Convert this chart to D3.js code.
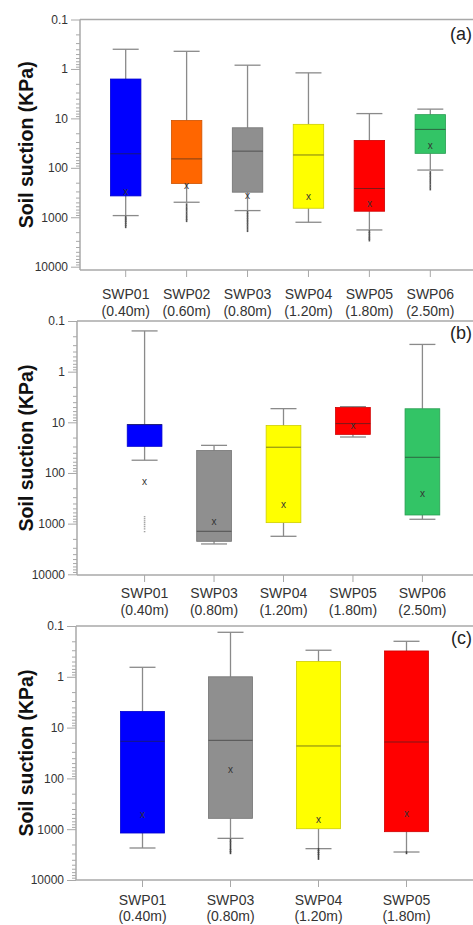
<!DOCTYPE html>
<html>
<head>
<meta charset="utf-8">
<script src="https://cdn.jsdelivr.net/npm/d3@7"></script>
<style>
  body { margin: 0; background: #fff; }
  svg { display: block; font-family: Arial, "Liberation Sans", sans-serif; }
</style>
</head>
<body>
<svg id="chart" width="473" height="925"></svg>
<script>
// Panel (a)
const catsA = ["SWP01", "SWP02", "SWP03", "SWP04", "SWP05", "SWP06"];
const depthsA = ["(0.40m)", "(0.60m)", "(0.80m)", "(1.20m)", "(1.80m)", "(2.50m)"];
const upperA = [0.40, 0.44, 0.84, 1.2, 8.0, 6.5];     // whisker end (low suction)
const q1A = [1.6, 11, 15.5, 13.2, 27.9, 8.4];
const medA = [52, 66, 46, 55, 262, 16.7];
const q3A = [370, 208, 311, 657, 755, 51];
const lowerA = [925, 497, 733, 1262, 1806, 111];     // whisker end (high suction)
const meanA = [302, 235, 364, 387, 537, 36];
const outA = [
  [1000, 1080, 1170, 1270, 1400, 1550],
  [560, 640, 720, 820, 930, 1050, 1170],
  [800, 890, 1000, 1120, 1260, 1420, 1620, 1860],
  [],
  [1950, 2150, 2400, 2650, 2880],
  [125, 140, 158, 180, 205, 235, 267]
];

// Panel (b)
const catsB = ["SWP01", "SWP03", "SWP04", "SWP05", "SWP06"];
const depthsB = ["(0.40m)", "(0.80m)", "(1.20m)", "(1.80m)", "(2.50m)"];
const upperB = [0.157, 28.5, 5.37, 4.9, 0.29];
const q1B = [11.1, 36, 11.6, 5.1, 5.4];
const medB = [11.1, 1416, 31, 10.6, 49];
const q3B = [29.8, 2233, 955, 17.3, 675];
const lowerB = [56, 2518, 1778, 19.5, 820];
const meanB = [148, 915, 422, 12, 260];
const outB = [
  [730, 800, 880, 960, 1050, 1150, 1270, 1440],
  [], [], [], []
];

// Panel (c)
const catsC = ["SWP01", "SWP03", "SWP04", "SWP05"];
const depthsC = ["(0.40m)", "(0.80m)", "(1.20m)", "(1.80m)"];
const upperC = [0.65, 0.133, 0.30, 0.20];
const q1C = [4.8, 1.0, 0.50, 0.31];
const medC = [18.6, 17.8, 23, 19.2];
const q3C = [1189, 611, 978, 1119];
const lowerC = [2344, 1514, 2416, 2812];
const meanC = [525, 68, 659, 509];
const outC = [
  [],
  [1650, 1850, 2100, 2400, 2650, 2900],
  [2500, 2750, 3000, 3300, 3750],
  [2900]
];

const yTicks = [0.1, 1, 10, 100, 1000, 10000];

const colorOf = {
  SWP01: "#0000ff",
  SWP02: "#ff6600",
  SWP03: "#8f8f8f",
  SWP04: "#ffff00",
  SWP05: "#ff0000",
  SWP06: "#33c466"
};

const svg = d3.select("#chart");
svg.append("rect").attr("width", 473).attr("height", 925).attr("fill", "#fff");

const frameColor = "#a8a8a8";
const whiskerColor = "#8a8a8a";
const capW = 26;

function drawPanel(p) {
  const g = svg.append("g");
  const y = d3.scaleLog().domain([0.1, 10000]).range([p.top, p.y10000]);
  const x = d3.scaleBand().domain(p.cats).range(p.xRange).padding(0.5);
  const xc = d => x(d) + x.bandwidth() / 2;

  // minor ticks
  const minor = [];
  for (let e = -1; e < 4; e++) {
    for (let k = 2; k < 10; k++) minor.push(k * Math.pow(10, e));
  }
  g.append("g")
    .attr("transform", `translate(${p.left},0)`)
    .call(d3.axisLeft(y).tickValues(minor).tickSize(4).tickFormat(""))
    .call(a => a.select(".domain").remove())
    .call(a => a.selectAll("line").attr("stroke", frameColor));

  // major ticks + labels
  g.append("g")
    .attr("transform", `translate(${p.left},0)`)
    .call(d3.axisLeft(y).tickValues(yTicks).tickSize(9).tickPadding(3).tickFormat(d => String(d)))
    .call(a => a.select(".domain").remove())
    .call(a => a.selectAll("line").attr("stroke", frameColor))
    .call(a => a.selectAll("text").attr("fill", "#333").attr("font-size", 12)
      .attr("font-family", "Arial, 'Liberation Sans', sans-serif"));

  // frame: left, top, bottom
  g.append("line").attr("x1", p.left).attr("x2", p.left).attr("y1", p.top).attr("y2", p.bottom)
    .attr("stroke", frameColor).attr("stroke-width", 1.5);
  g.append("line").attr("x1", p.left).attr("x2", 476).attr("y1", p.top).attr("y2", p.top)
    .attr("stroke", frameColor).attr("stroke-width", 1.5);
  g.append("line").attr("x1", p.left).attr("x2", 476).attr("y1", p.bottom).attr("y2", p.bottom)
    .attr("stroke", frameColor).attr("stroke-width", 1.5);

  // x axis ticks and labels
  g.append("g")
    .attr("transform", `translate(0,${p.bottom})`)
    .call(d3.axisBottom(x).tickSize(7).tickFormat(""))
    .call(a => a.select(".domain").remove())
    .call(a => a.selectAll("line").attr("stroke", frameColor));

  const lab = g.append("g").selectAll("text").data(p.cats).join("text")
    .attr("x", d => xc(d))
    .attr("y", p.bottom + p.labOff)
    .attr("text-anchor", "middle")
    .attr("font-size", 14)
    .attr("fill", "#333");
  lab.append("tspan").attr("x", d => xc(d)).text(d => d);
  lab.append("tspan").attr("x", d => xc(d)).attr("dy", p.lineGap).text((d, i) => p.depths[i]);

  // y title
  g.append("text")
    .attr("transform", `translate(33,${(p.top + p.bottom) / 2}) rotate(-90)`)
    .attr("text-anchor", "middle")
    .attr("font-size", 19.5)
    .attr("font-weight", "bold")
    .attr("fill", "#111")
    .text("Soil suction (KPa)");

  // panel tag
  g.append("text")
    .attr("x", 472).attr("y", p.top + p.tagOff)
    .attr("text-anchor", "end")
    .attr("font-size", 18)
    .attr("fill", "#222")
    .text(p.tag);

  const bw = x.bandwidth();
  const boxes = g.append("g").selectAll("g").data(p.cats).join("g");

  // whisker stems
  boxes.append("line")
    .attr("x1", d => xc(d)).attr("x2", d => xc(d))
    .attr("y1", (d, i) => y(p.upper[i])).attr("y2", (d, i) => y(p.q1[i]))
    .attr("stroke", whiskerColor).attr("stroke-width", 1.3);
  boxes.append("line")
    .attr("x1", d => xc(d)).attr("x2", d => xc(d))
    .attr("y1", (d, i) => y(p.q3[i])).attr("y2", (d, i) => y(p.lower[i]))
    .attr("stroke", whiskerColor).attr("stroke-width", 1.3);
  // caps
  boxes.append("line")
    .attr("x1", d => xc(d) - capW / 2).attr("x2", d => xc(d) + capW / 2)
    .attr("y1", (d, i) => y(p.upper[i])).attr("y2", (d, i) => y(p.upper[i]))
    .attr("stroke", whiskerColor).attr("stroke-width", 1.3);
  boxes.append("line")
    .attr("x1", d => xc(d) - capW / 2).attr("x2", d => xc(d) + capW / 2)
    .attr("y1", (d, i) => y(p.lower[i])).attr("y2", (d, i) => y(p.lower[i]))
    .attr("stroke", whiskerColor).attr("stroke-width", 1.3);

  // box
  boxes.append("rect")
    .attr("x", d => x(d))
    .attr("width", bw)
    .attr("y", (d, i) => y(p.q1[i]))
    .attr("height", (d, i) => y(p.q3[i]) - y(p.q1[i]))
    .attr("fill", d => colorOf[d])
    .attr("stroke", d => d3.color(colorOf[d]).darker(0.6))
    .attr("stroke-width", 0.8);

  // median
  boxes.append("line")
    .attr("x1", d => x(d)).attr("x2", d => x(d) + bw)
    .attr("y1", (d, i) => y(p.med[i])).attr("y2", (d, i) => y(p.med[i]))
    .attr("stroke", "rgba(40,40,40,0.6)").attr("stroke-width", 1);

  // mean marker
  boxes.append("text")
    .attr("x", d => xc(d))
    .attr("y", (d, i) => y(p.mean[i]) + 3)
    .attr("text-anchor", "middle")
    .attr("font-size", 10)
    .attr("fill", "#333")
    .text("x");

  // outliers
  boxes.each(function (d, i) {
    d3.select(this).selectAll("line.out").data(p.out[i]).join("line")
      .attr("class", "out")
      .attr("x1", xc(d)).attr("x2", xc(d))
      .attr("y1", v => y(v) - p.outLen / 2).attr("y2", v => y(v) + p.outLen / 2)
      .attr("stroke", p.outColor).attr("stroke-width", 1.6);
  });
}

drawPanel({
  cats: catsA, depths: depthsA, upper: upperA, q1: q1A, med: medA, q3: q3A,
  lower: lowerA, mean: meanA, out: outA, tag: "(a)",
  left: 80, top: 19.5, y10000: 266.7, bottom: 270, xRange: [80, 476],
  labOff: 29, lineGap: 17, tagOff: 20, outColor: "#555", outLen: 3
});
drawPanel({
  cats: catsB, depths: depthsB, upper: upperB, q1: q1B, med: medB, q3: q3B,
  lower: lowerB, mean: meanB, out: outB, tag: "(b)",
  left: 77, top: 321, y10000: 574.3, bottom: 575, xRange: [92.5, 474.5],
  labOff: 23, lineGap: 17, tagOff: 18, outColor: "#999", outLen: 1.2
});
drawPanel({
  cats: catsC, depths: depthsC, upper: upperC, q1: q1C, med: medC, q3: q3C,
  lower: lowerC, mean: meanC, out: outC, tag: "(c)",
  left: 76, top: 626, y10000: 880, bottom: 880, xRange: [76.5, 472.5],
  labOff: 25, lineGap: 15.5, tagOff: 18, outColor: "#444", outLen: 3
});
</script>
</body>
</html>
